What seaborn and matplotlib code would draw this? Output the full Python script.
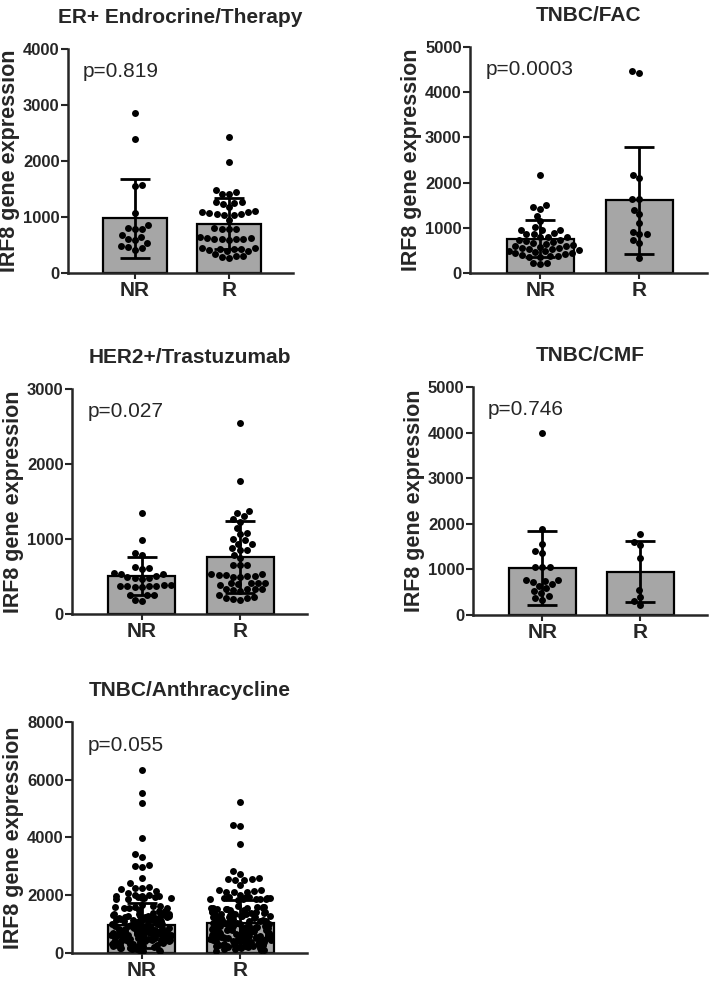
import numpy as np
import pandas as pd
import matplotlib
matplotlib.use("Agg")
import matplotlib.pyplot as plt
import seaborn as sns

sns.set_theme(style="ticks")
plt.rcParams["font.family"] = ["Liberation Sans", "DejaVu Sans"]
plt.rcParams["font.weight"] = "bold"

groups = ["NR", "R"]

titles = ["ER+ Endrocrine/Therapy", "TNBC/FAC", "HER2+/Trastuzumab", "TNBC/CMF", "TNBC/Anthracycline"]
p_labels = ["p=0.819", "p=0.0003", "p=0.027", "p=0.746", "p=0.055"]
y_max = [4000, 5000, 3000, 5000, 8000]
y_step = [1000, 1000, 1000, 1000, 2000]

# bar heights (mean) and error bars (SD)
bar_mean = [[975, 878], [757, 1603], [507, 757], [1030, 952], [958, 1039]]
bar_sd = [[700, 455], [405, 1184], [252, 478], [816, 660], [773, 784]]

# individual samples
er_nr = [2860, 2400, 1570, 1560, 1070, 850, 800, 790, 780, 670, 650, 600, 590, 530, 480, 460, 450, 410]
er_r = [2430, 1980, 1480, 1440, 1410, 1410, 1270, 1260, 1250, 1240, 1170,
        1100, 1090, 1080, 1070, 1060, 1050, 1040, 1040, 950, 800, 790, 790, 780,
        640, 630, 620, 610, 610, 600, 600, 590, 450, 440, 430, 420, 420, 410, 400, 390,
        330, 310, 300, 290, 270]

fac_nr = [2170, 1500, 1450, 1410, 1270, 1140, 1010, 950, 950, 950, 880, 860, 860, 800, 800,
          800, 730, 730, 700, 680, 660, 640, 620, 600, 600, 580, 560, 550, 540, 520, 500,
          490, 480, 460, 450, 440, 420, 400, 380, 370, 360, 360, 230, 230, 190]
fac_r = [4470, 4430, 2170, 2090, 1640, 1630, 1390, 1300, 1100, 910, 870, 860, 730, 670, 330]

her2_nr = [1340, 990, 810, 790, 630, 610, 600, 550, 540, 540, 510, 500, 480, 480, 470,
           390, 390, 380, 380, 370, 370, 360, 360, 260, 260, 250, 190, 180]
her2_r = [2550, 1770, 1370, 1350, 1310, 1260, 1230, 1150, 1080, 1070, 1000, 990, 940, 930, 880,
          860, 850, 790, 750, 660, 650, 650, 540, 530, 520, 520, 510, 510, 500, 490,
          420, 420, 410, 410, 400, 390, 340, 330, 330, 330, 320, 310, 250, 230, 220, 210, 200, 190]

cmf_nr = [3990, 1890, 1560, 1400, 1360, 1060, 1060, 1060, 770, 770, 740, 730, 690, 640, 590,
          530, 480, 410, 370, 330]
cmf_r = [1770, 1610, 1540, 1260, 550, 400, 300, 230]

anth_nr = [6330, 5530, 5180, 3970, 3430, 3340, 3050, 3010, 2990, 2590, 2440, 2290, 2260, 2240,
           2200, 2130, 2080, 2020, 2000, 1990, 1980, 1960,
           1948, 1933, 1921, 1912, 1897, 1884, 1871, 1652, 1637, 1618, 1596, 1583, 1571,
           1556, 1548, 1354, 1327, 1305, 1293, 1276, 1262, 1251, 1238, 1227, 1194, 1163,
           1141, 1118, 1102, 1077, 1063, 1048, 1029, 1012, 996, 968, 951, 934, 912, 893,
           871, 856, 832, 811, 793, 774, 752, 738, 719, 703, 688, 671, 652, 634, 612,
           596, 573, 558, 541, 523, 504, 489, 472, 451, 433, 412, 393, 371, 352, 338,
           317, 302, 281, 263, 242, 221, 203, 184, 162, 141, 118, 97, 76, 58,
           1493, 1461, 1447, 1402, 1391, 1366, 1338, 1329, 1284, 1266, 1231, 1219, 1186,
           1172, 1135, 1126, 1097, 1083, 1059, 1041, 1022, 1004, 987, 961, 958, 922, 917,
           884, 879, 851, 836, 822, 799, 781, 776, 745, 733, 716, 692, 681, 664, 648, 627,
           619, 592, 584, 563, 547, 536, 511, 498, 483, 466, 447, 428, 419, 397, 382, 364,
           347, 329, 311, 294, 276, 253, 236, 214, 192, 171, 149]
anth_r = [5240, 4440, 4390, 3790, 2840, 2750, 2580, 2570, 2550, 2540, 2520, 2340, 2190, 2170,
          2150, 2110, 2110, 2110, 2000,
          1931, 1918, 1906, 1899, 1887, 1873, 1862, 1851, 1602, 1588, 1571, 1563, 1549,
          1537, 1524, 1512, 1431, 1418, 1402, 1391, 1377, 1364, 1352, 1286, 1271, 1253,
          1238, 1224, 1209, 1187, 1162, 1144, 1121, 1103, 1084, 1066, 1043, 1027, 1008,
          991, 973, 952, 934, 917, 896, 877, 858, 839, 817, 798, 781, 763, 742, 726,
          709, 688, 671, 653, 637, 618, 597, 579, 562, 543, 527, 508, 491, 472, 456,
          437, 418, 401, 383, 362, 344, 327, 306, 288, 269, 251, 232, 213, 194, 173,
          152, 131, 112, 93, 71,
          1946, 1922, 1879, 1866, 1612, 1593, 1556, 1498, 1473, 1452, 1427, 1396, 1383,
          1344, 1327, 1298, 1267, 1246, 1213, 1192, 1178, 1153, 1129, 1112, 1091, 1072,
          1054, 1033, 1019, 996, 978, 961, 943, 926, 903, 886, 867, 849, 826, 808, 793,
          771, 754, 733, 717, 698, 679, 662, 644, 626, 608, 589, 571, 553, 534, 516, 497,
          479, 462, 444, 426, 407, 389, 372, 353, 334, 316, 297, 279, 258, 241, 222, 203,
          186, 164, 142]

samples = [(er_nr, er_r), (fac_nr, fac_r), (her2_nr, her2_r), (cmf_nr, cmf_r), (anth_nr, anth_r)]

# axes rectangles in figure fraction
rects = [
    [0.096, 0.7226, 0.317, 0.2276],
    [0.663, 0.7226, 0.334, 0.2297],
    [0.1016, 0.376, 0.3315, 0.2287],
    [0.667, 0.375, 0.330, 0.2317],
    [0.1016, 0.0315, 0.3315, 0.2348],
]

np.random.seed(7)  # only for the horizontal jitter of the crowded last panel

fig = plt.figure(figsize=(7.09, 9.84), dpi=100)

for i in range(5):
    ax = fig.add_axes(rects[i])
    nr, r = samples[i]
    df = pd.DataFrame({
        "group": ["NR"] * len(nr) + ["R"] * len(r),
        "value": nr + r,
    })

    sns.barplot(x=groups, y=bar_mean[i], color="#a6a6a6", saturation=1,
                edgecolor="black", linewidth=1.6, width=0.68, errorbar=None, ax=ax)
    if i < 4:
        sns.swarmplot(data=df, x="group", y="value", order=groups, color="black",
                      size=5, ax=ax, warn_thresh=1)
    else:
        # too many samples for a swarm below ~2000: sparse ones as swarm, crowd jittered
        sparse = df[df["value"] >= 1990]
        crowd = df[df["value"] < 1990]
        sns.swarmplot(data=sparse, x="group", y="value", order=groups, color="black",
                      size=5, ax=ax, warn_thresh=1)
        sns.stripplot(data=crowd, x="group", y="value", order=groups, color="black",
                      size=5, jitter=0.31, ax=ax)
    ax.errorbar([0, 1], bar_mean[i], yerr=bar_sd[i], fmt="none", ecolor="black",
                elinewidth=2, capsize=11, capthick=2, zorder=4)

    ax.set_xlim(-0.71, 1.68)
    ax.set_ylim(0, y_max[i])
    ax.set_yticks(np.arange(0, y_max[i] + 1, y_step[i]))
    ax.set_xlabel("")
    ax.set_ylabel("IRF8 gene expression", fontsize=15.5, fontweight="bold", labelpad=2)
    ax.set_title(titles[i], fontsize=15, fontweight="bold", pad=19)
    ax.text(0.065, 0.90, p_labels[i], transform=ax.transAxes, fontsize=15,
            fontweight="normal", va="center", ha="left")

    sns.despine(ax=ax)
    for side in ["left", "bottom"]:
        ax.spines[side].set_linewidth(1.8)
    ax.tick_params(axis="y", length=5, width=1.5, labelsize=12, pad=1)
    ax.tick_params(axis="x", length=4, width=1.5, labelsize=15, pad=2)

fig.savefig("out.png", dpi=100)
